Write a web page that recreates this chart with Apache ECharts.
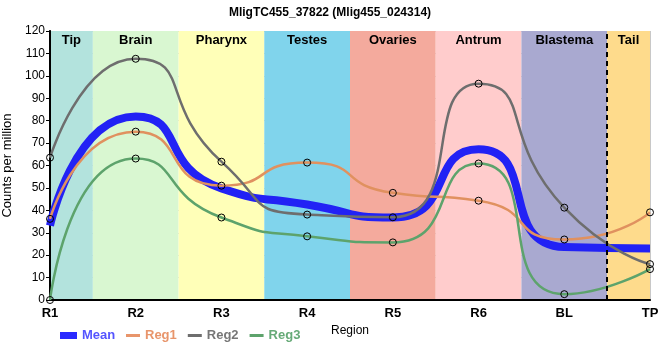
<!DOCTYPE html>
<html><head><meta charset="utf-8">
<script src="https://cdn.jsdelivr.net/npm/echarts@6/dist/echarts.min.js"></script>
<style>html,body{margin:0;padding:0;background:#fff}#c{width:660px;height:360px}</style>
</head><body><div id="c"></div>
<script>
var categories = ['R1','R2','R3','R4','R5','R6','BL','TP'];
var reg1 = [36.2, 75.1, 51.0, 61.3, 47.8, 44.3, 27.0, 39.1];
var reg2 = [63.5, 107.6, 61.7, 38.1, 36.9, 96.5, 41.2, 16.0];
var reg3 = [0, 63.1, 36.8, 28.4, 25.7, 60.9, 2.6, 13.8];
var meanVals = [33.2, 81.9, 49.8, 42.6, 36.8, 67.2, 23.6, 23.0];
var regions = ['Tip','Brain','Pharynx','Testes','Ovaries','Antrum','Blastema','Tail'];
var regionColors = ['#b3e3dd','#d9f7d1','#ffffb8','#80d4ec','#f4aa9d','#ffcccc','#a9a9d0','#fedb8c'];
var yTicks = [0,10,20,30,40,50,60,70,80,90,100,110,120];

function pts(arr){ return arr.map(function(v,i){return [i,v];}); }
var bands = regions.map(function(r,i){
  return [{name:r, xAxis: Math.max(0,i-0.5), itemStyle:{color:regionColors[i]}}, {xAxis: Math.min(7,i+0.5)}];
});
var chart = echarts.init(document.getElementById('c'));
var SMOOTH = 0.65;
function regSeries(name, data, color){
  return {name:name, type:'line', data:pts(data), smooth:SMOOTH, z:3,
    symbol:'circle', symbolSize:7, showSymbol:true,
    itemStyle:{color:'rgba(255,255,255,0)', borderColor:'#000', borderWidth:1},
    lineStyle:{color:color, width:2.5}, emphasis:{disabled:true}};
}
var F = 'Liberation Sans, Arial';
chart.setOption({
  animation:false,
  title:{text:'MligTC455_37822 (Mlig455_024314)', left:'center', top:2,
    textStyle:{fontFamily:F, fontSize:12, fontWeight:'bold', color:'#000'}},
  grid:{left:50, right:10, top:31, bottom:60, containLabel:false, outerBoundsMode:'none'},
  legend:[{
    left:55, top:324, itemWidth:17, itemHeight:7, icon:'rect', itemGap:8,
    data:[{name:'Mean', textStyle:{color:'#5555ff'}, itemStyle:{color:'#2a2aff', borderWidth:0}}],
    textStyle:{fontFamily:F, fontSize:13, fontWeight:'bold'}
  },{
    left:121, top:324, itemWidth:14, itemHeight:3, icon:'rect', itemGap:11,
    data:[{name:'Reg1', textStyle:{color:'#e8956b'}, itemStyle:{color:'#e8956b', borderWidth:0}},
          {name:'Reg2', textStyle:{color:'#777777'}, itemStyle:{color:'#6e6e6e', borderWidth:0}},
          {name:'Reg3', textStyle:{color:'#66aa77'}, itemStyle:{color:'#5da36c', borderWidth:0}}],
    textStyle:{fontFamily:F, fontSize:13, fontWeight:'bold'}
  }],
  xAxis:[{
    type:'value', min:0, max:7, interval:1, z:1,
    name:'Region', nameLocation:'middle', nameGap:25,
    nameTextStyle:{fontFamily:F, fontSize:12, color:'#000'},
    axisLine:{show:true, onZero:false, lineStyle:{color:'#000', width:2}},
    axisTick:{show:false},
    axisLabel:{formatter:function(v){return categories[v]||'';}, color:'#000', fontFamily:F, fontSize:13, fontWeight:'bold', margin:7},
    splitLine:{show:true, lineStyle:{color:'#c8c8c8', width:1}}
  },{
    type:'value', min:0, max:7, position:'top', z:1,
    axisLine:{show:true, lineStyle:{color:'#000', width:1}}, axisTick:{show:false}, axisLabel:{show:false}, splitLine:{show:false}
  }],
  yAxis:[{
    type:'value', min:0, max:120, interval:10, z:1,
    name:'Counts per million', nameLocation:'middle', nameGap:25,
    nameTextStyle:{fontFamily:F, fontSize:13, color:'#000'},
    axisLine:{show:true, onZero:false, lineStyle:{color:'#000', width:2}},
    axisTick:{show:true, length:4, lineStyle:{color:'#000'}},
    axisLabel:{color:'#000', fontFamily:F, fontSize:12, margin:5,
      formatter:function(v){return yTicks.indexOf(v)>=0 ? String(v) : '';}},
    splitLine:{show:true, lineStyle:{color:'#c8c8c8', width:1}}
  },{
    type:'value', min:0, max:120, position:'right', z:1,
    axisLine:{show:true, lineStyle:{color:'#000', width:1.5}}, axisTick:{show:false}, axisLabel:{show:false}, splitLine:{show:false}
  }],
  series:[
    {type:'line', data:[], z:0, silent:true,
      markArea:{silent:true, data:bands,
        label:{show:true, position:'insideTop', distance:3, color:'#000', fontFamily:F, fontSize:13, fontWeight:'bold'}},
      markLine:{silent:true, symbol:['none','none'], label:{show:false},
        lineStyle:{color:'#000', width:2, type:[5,4]}, data:[{xAxis:6.5}]}
    },
    {name:'Mean', type:'line', data:pts(meanVals), smooth:SMOOTH, z:2,
      showSymbol:false, symbol:'none', itemStyle:{color:'#2a2aff'}, lineStyle:{color:'#2222f5', width:8}, emphasis:{disabled:true}},
    regSeries('Reg1', reg1, '#e0915f'),
    regSeries('Reg2', reg2, '#6e6e6e'),
    regSeries('Reg3', reg3, '#5da36c')
  ]
});
</script></body></html>
